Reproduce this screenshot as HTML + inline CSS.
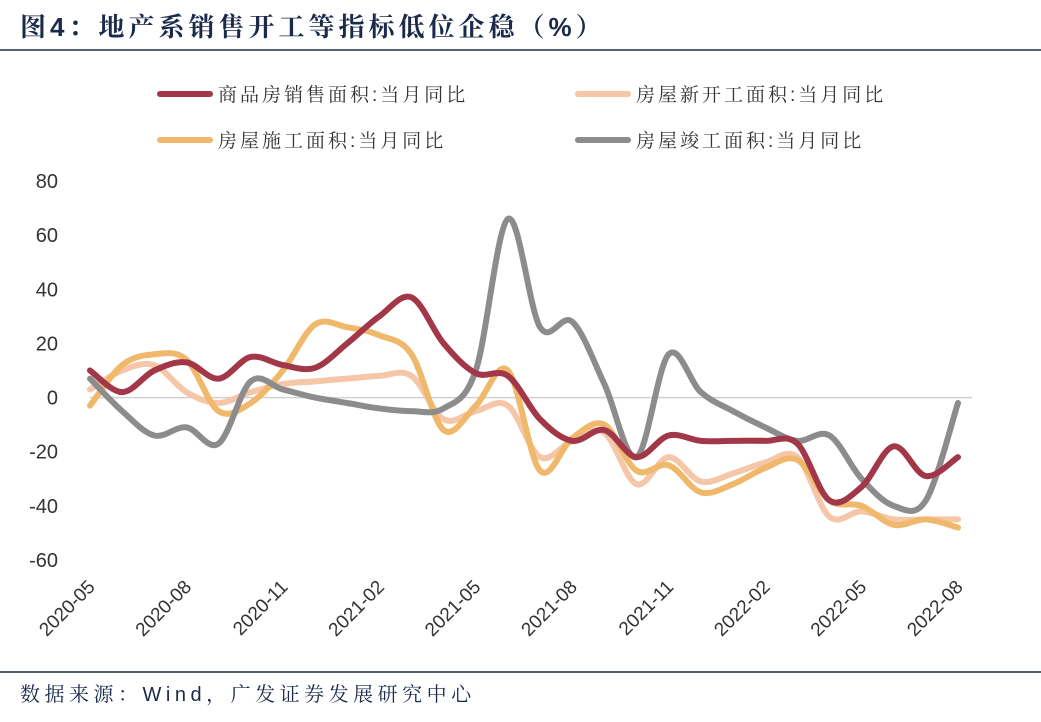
<!DOCTYPE html>
<html><head><meta charset="utf-8"><style>
body{margin:0;background:#fff;width:1041px;height:717px;overflow:hidden;font-family:"Liberation Sans","Noto Sans CJK SC",sans-serif}
</style></head><body>
<svg id="chart" width="1041" height="717" xmlns="http://www.w3.org/2000/svg">
<text x="20" y="36" font-size="26" font-weight="bold" letter-spacing="4" fill="#1b2a4a" font-family="Liberation Sans,Noto Serif CJK SC,serif">图4：地产系销售开工等指标低位企稳（%）</text>
<line x1="0" y1="50" x2="1041" y2="50" stroke="#1b2a4a" stroke-width="1.5"/>
<line x1="0" y1="672" x2="1041" y2="672" stroke="#1b2a4a" stroke-width="1.5"/>
<text x="20" y="701" font-size="20" letter-spacing="4.5" fill="#1b2a4a" font-family="Liberation Sans,Noto Serif CJK SC,serif">数据来源：Wind，广发证券发展研究中心</text>
<g id="legend"></g>
<g id="axes"></g>
<g id="series"></g>
</svg>
<script>
const categories=["2020-05","2020-06","2020-07","2020-08","2020-09","2020-10","2020-11","2020-12","2021-01","2021-02","2021-03","2021-04","2021-05","2021-06","2021-07","2021-08","2021-09","2021-10","2021-11","2021-12","2022-01","2022-02","2022-03","2022-04","2022-05","2022-06","2022-07","2022-08"];
const sales=[10,2,10,13,7,15,12,11,20,30,37,20,9,8,-8,-16,-12,-22,-14,-16,-16,-16,-17,-38,-33,-18,-29,-22];
const newStarts=[3,10,12,2,-2,2,5,6,7,8,8,-8,-5,-3,-22,-16,-13,-32,-22,-31,-28,-24,-22,-44,-42,-45,-45,-45];
const construction=[-3,12,16,14,-5,-2,10,27,26,23,16,-12,-3,10,-27,-15,-10,-27,-25,-35,-32,-26,-23,-38,-40,-47,-45,-48];
const completion=[7,-5,-14,-11,-17,6,3,0,-2,-4,-5,-4,10,66,26,28,5,-22,16,2,-5,-11,-16,-14,-30,-40,-38,-2];
const yTicks=[80,60,40,20,0,-20,-40,-60];
const xTickLabels=["2020-05","2020-08","2020-11","2021-02","2021-05","2021-08","2021-11","2022-02","2022-05","2022-08"];
const NS="http://www.w3.org/2000/svg";
const x0=90,x1=958,yTop=181,yBot=560,vMax=80,vMin=-60;
function xs(i){return x0+i*(x1-x0)/(categories.length-1);}
function ys(v){return yTop+(vMax-v)*(yBot-yTop)/(vMax-vMin);}
function mk(tag,attrs,parent){const e=document.createElementNS(NS,tag);for(const k in attrs)e.setAttribute(k,attrs[k]);parent.appendChild(e);return e;}
const axes=document.getElementById('axes');
const zl=mk('line',{x1:x0,x2:972,y1:ys(0),y2:ys(0),stroke:'#d0d0d0','stroke-width':1.5},axes);


yTicks.forEach(t=>{const e=mk('text',{x:58,y:ys(t)+7,'text-anchor':'end','font-size':20,fill:'#333'},axes);e.textContent=t;

});
xTickLabels.forEach(l=>{const i=categories.indexOf(l);const X=xs(i)+6,Y=588;
const e=mk('text',{x:X,y:Y,'text-anchor':'end','font-size':19,fill:'#333',transform:`rotate(-45 ${X} ${Y})`},axes);e.textContent=l;

});
function path(vals){const p=vals.map((v,i)=>[xs(i),ys(v)]);let d=`M${p[0][0]},${p[0][1]}`;
for(let i=0;i<p.length-1;i++){const a=p[Math.max(0,i-1)],b=p[i],c=p[i+1],e=p[Math.min(p.length-1,i+2)];const t=6;
d+=` C${b[0]+(c[0]-a[0])/t},${b[1]+(c[1]-a[1])/t} ${c[0]-(e[0]-b[0])/t},${c[1]-(e[1]-b[1])/t} ${c[0]},${c[1]}`;}return d;}
const ser=document.getElementById('series');
const defs=[[newStarts,'#f5c6a8','line-new-starts'],[construction,'#f0b86a','line-construction'],[completion,'#8c8c8c','line-completion'],[sales,'#a23749','line-sales']];
defs.forEach(([v,c,n])=>{const e=mk('path',{d:path(v),fill:'none',stroke:c,'stroke-width':6,'stroke-linecap':'round'},ser);

});
const leg=document.getElementById('legend');
[[160,94,'#a23749','商品房销售面积:当月同比'],[578,94,'#f5c6a8','房屋新开工面积:当月同比'],[160,140,'#f0b86a','房屋施工面积:当月同比'],[578,140,'#8c8c8c','房屋竣工面积:当月同比']].forEach(([x,y,c,t])=>{
const g=mk('g',{},leg);


mk('line',{x1:x,x2:x+50,y1:y,y2:y,stroke:c,'stroke-width':6,'stroke-linecap':'round'},g);
const e=mk('text',{x:x+58,y:y+7,'font-size':19,'letter-spacing':3,fill:'#333','font-family':'Liberation Sans,Noto Serif CJK SC,serif'},g);e.textContent=t;});
</script>
</body></html>
